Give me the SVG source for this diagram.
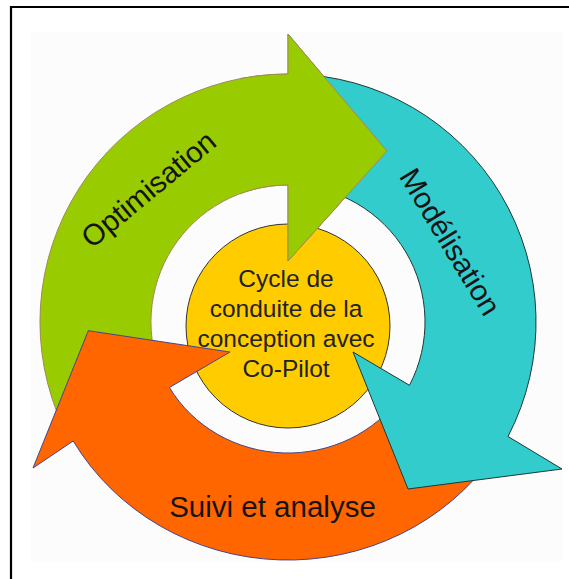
<svg xmlns="http://www.w3.org/2000/svg" xmlns:xlink="http://www.w3.org/1999/xlink" width="569" height="579" viewBox="0 0 569 579">
  <style>
    .lbl { font-family: "Liberation Sans", Arial, sans-serif; font-size: 29.5px; fill: #141414; }
    .ctr { font-family: "Liberation Sans", Arial, sans-serif; font-size: 24.5px; fill: #222; text-anchor: middle; }
    .green { fill: #99CC00; stroke: #A08A55; stroke-width: 1; stroke-linejoin: miter; }
    .cyan { fill: #33CCCC; stroke: #1E3838; stroke-width: 1; }
    .orange { fill: #FF6600; stroke: #45458A; stroke-width: 1; }
  </style>
  <defs>
    <path id="greenArrow" d="M63.2,426.8 A248,248 0 0 1 288,74 L288,34 L387,151 L288,261 L288,185 A137,137 0 0 0 163.8,379.9 Z"/>
    <clipPath id="headClip"><rect x="240" y="0" width="200" height="280"/></clipPath>
  </defs>
  <rect x="0" y="0" width="569" height="579" fill="#ffffff"/>
  <rect x="31" y="32" width="531" height="530" fill="#fcfcfc"/>
  <path d="M11,579 L11,7 L569,7" fill="none" stroke="#000" stroke-width="2.2"/>

  <g id="centre">
    <circle cx="288" cy="326" r="102" fill="#FFCC00" stroke="#333" stroke-width="1"/>
  </g>

  <g id="optimisation">
    <use xlink:href="#greenArrow" class="green"/>
    <text class="lbl" text-anchor="middle" transform="translate(155,197) rotate(-39.6)">Optimisation</text>
  </g>

  <g id="suivi">
    <path class="orange" d="M493.6,455.1 A248,238 0 0 1 73.2,441 L33,468 L88.3,330.7 L230,352 L169.4,387.5 A137,131 0 0 0 401.6,395.3 Z"/>
    <text class="lbl" x="272.5" y="517" text-anchor="middle">Suivi et analyse</text>
  </g>

  <g id="modelisation">
    <path class="cyan" d="M292.3,74 A248,248 0 0 1 508,436.5 L562,469 L408,489 L353,352 L409.5,385.3 A137,137 0 0 0 290.4,185 Z"/>
    <text class="lbl" text-anchor="middle" transform="translate(441.5,247) rotate(58.7)">Modélisation</text>
  </g>

  <g id="optimisation-head">
    <use xlink:href="#greenArrow" class="green" clip-path="url(#headClip)"/>
  </g>

  <g id="centre-label">
    <text class="ctr" x="286" y="287">Cycle de</text>
    <text class="ctr" x="286" y="317">conduite de la</text>
    <text class="ctr" x="286" y="347">conception avec</text>
    <text class="ctr" x="286" y="377">Co-Pilot</text>
  </g>
</svg>
